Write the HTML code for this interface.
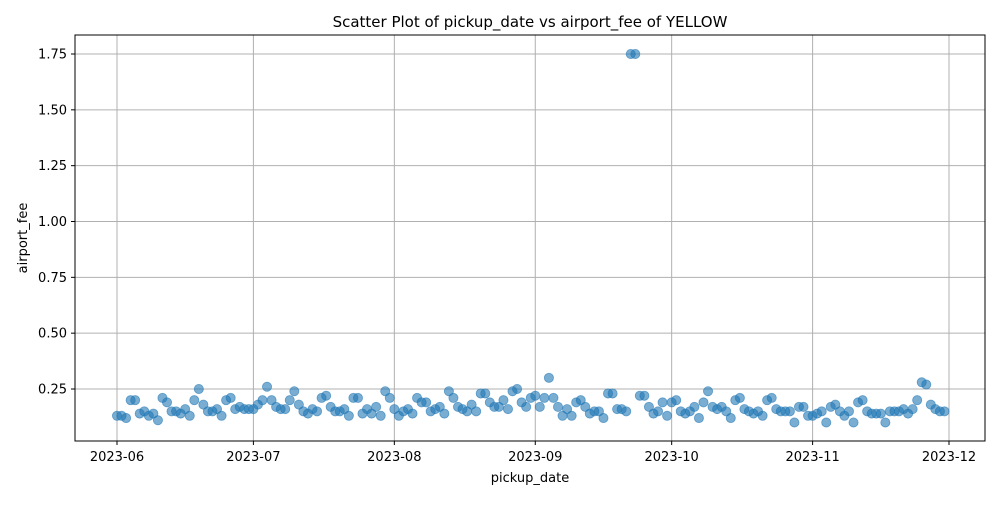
<!DOCTYPE html>
<html><head><meta charset="utf-8"><style>
body{margin:0;background:#fff;font-family:"Liberation Sans","DejaVu Sans",sans-serif}
</style></head><body>
<svg id="chart" width="1000" height="500" xmlns="http://www.w3.org/2000/svg" font-family="'DejaVu Sans','Liberation Sans',sans-serif">
<rect width="1000" height="500" fill="#fff"/>
<text x="530" y="27" text-anchor="middle" font-size="15">Scatter Plot of pickup_date vs airport_fee of YELLOW</text>
<g id="grid"></g><g id="pts"></g><g id="axes"></g>
<rect x="75" y="35" width="910" height="406" fill="none" stroke="#000" stroke-width="1"/>
<text x="530" y="482" text-anchor="middle" font-size="13">pickup_date</text>
<text x="27" y="238" text-anchor="middle" font-size="13" transform="rotate(-90 27 238)">airport_fee</text>
</svg>
<script>
const values=[0.13,0.13,0.12,0.20,0.20,0.14,0.15,0.13,0.14,0.11,0.21,0.19,0.15,0.15,0.14,0.16,0.13,0.20,0.25,0.18,0.15,0.15,0.16,0.13,0.20,0.21,0.16,0.17,0.16,0.16,
0.16,0.18,0.20,0.26,0.20,0.17,0.16,0.16,0.20,0.24,0.18,0.15,0.14,0.16,0.15,0.21,0.22,0.17,0.15,0.15,0.16,0.13,0.21,0.21,0.14,0.16,0.14,0.17,0.13,0.24,0.21,
0.16,0.13,0.15,0.16,0.14,0.21,0.19,0.19,0.15,0.16,0.17,0.14,0.24,0.21,0.17,0.16,0.15,0.18,0.15,0.23,0.23,0.19,0.17,0.17,0.20,0.16,0.24,0.25,0.19,0.17,0.21,
0.22,0.17,0.21,0.30,0.21,0.17,0.13,0.16,0.13,0.19,0.20,0.17,0.14,0.15,0.15,0.12,0.23,0.23,0.16,0.16,0.15,1.75,1.75,0.22,0.22,0.17,0.14,0.15,0.19,0.13,
0.19,0.20,0.15,0.14,0.15,0.17,0.12,0.19,0.24,0.17,0.16,0.17,0.15,0.12,0.20,0.21,0.16,0.15,0.14,0.15,0.13,0.20,0.21,0.16,0.15,0.15,0.15,0.10,0.17,0.17,0.13,
0.13,0.14,0.15,0.10,0.17,0.18,0.15,0.13,0.15,0.10,0.19,0.20,0.15,0.14,0.14,0.14,0.10,0.15,0.15,0.15,0.16,0.14,0.16,0.20,0.28,0.27,0.18,0.16,0.15,0.15];
const xTickDays=[0,30,61,92,122,153,183];
const xTickLabels=["2023-06","2023-07","2023-08","2023-09","2023-10","2023-11","2023-12"];
const yTicks=[0.25,0.5,0.75,1.0,1.25,1.5,1.75];
const yTickLabels=["0.25","0.50","0.75","1.00","1.25","1.50","1.75"];
const NS="http://www.w3.org/2000/svg";
const xs=d=>117+d*(949-117)/183;
const ys=v=>389-(v-0.25)*(335/1.5);
function mk(t,a,p){const e=document.createElementNS(NS,t);for(const k in a)e.setAttribute(k,a[k]);p.appendChild(e);return e;}
const grid=document.getElementById('grid'),axes=document.getElementById('axes'),pts=document.getElementById('pts');
xTickDays.forEach((d,i)=>{const x=xs(d);
 const g=mk('line',{x1:x,x2:x,y1:35,y2:441,stroke:'#b0b0b0','stroke-width':1},grid);
 
 
 mk('line',{x1:x,x2:x,y1:441,y2:445,stroke:'#000'},axes);
 const t=mk('text',{x:x,y:461,'text-anchor':'middle','font-size':13},axes);t.textContent=xTickLabels[i];
 
 });
yTicks.forEach((v,i)=>{const y=ys(v);
 const g=mk('line',{x1:75,x2:985,y1:y,y2:y,stroke:'#b0b0b0','stroke-width':1},grid);
 
 
 mk('line',{x1:71,x2:75,y1:y,y2:y,stroke:'#000'},axes);
 const t=mk('text',{x:67,y:y+4.5,'text-anchor':'end','font-size':13},axes);t.textContent=yTickLabels[i];
 
 });
values.forEach((v,i)=>{const c=mk('circle',{cx:xs(i),cy:ys(v),r:4.6,fill:'#1f77b4','fill-opacity':0.6,stroke:'#1f77b4','stroke-opacity':0.6,'stroke-width':0.8},pts);
 
 });
</script>
</body></html>
